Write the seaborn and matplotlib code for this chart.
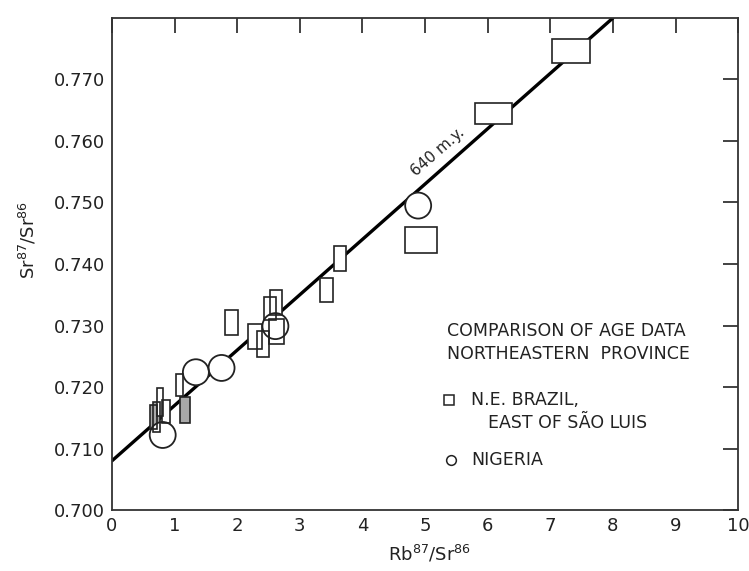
import numpy as np
import pandas as pd
import seaborn as sns
import matplotlib.pyplot as plt
from matplotlib.patches import Rectangle

# N.E. Brazil error boxes: centre and full width/height
brazil_x = [0.66, 0.71, 0.77, 0.86, 1.08, 1.16, 1.91, 2.29, 2.41, 2.52, 2.62, 2.63, 3.43, 3.64, 4.94, 6.10, 7.33]
brazil_y = [0.7151, 0.7151, 0.7176, 0.7160, 0.7203, 0.7163, 0.7305, 0.7282, 0.7270, 0.7328, 0.7338, 0.7290, 0.7358, 0.7409, 0.7439, 0.7645, 0.7746]
brazil_w = [0.11, 0.10, 0.10, 0.12, 0.10, 0.16, 0.20, 0.22, 0.20, 0.19, 0.20, 0.24, 0.21, 0.20, 0.51, 0.59, 0.60]
brazil_h = [0.0040, 0.0048, 0.0046, 0.0038, 0.0035, 0.0042, 0.0040, 0.0042, 0.0041, 0.0037, 0.0041, 0.0040, 0.0040, 0.0041, 0.0042, 0.0034, 0.0039]
shaded = [0, 1, 5]

# Nigeria points
nigeria_x = [0.81, 1.34, 1.75, 2.61, 4.89]
nigeria_y = [0.7122, 0.7224, 0.7231, 0.7299, 0.7495]

# 640 m.y. isochron
iso_x = [0.0, 8.0]
iso_y = [0.708, 0.780]

sns.set_style('white')
plt.rcParams['font.family'] = ['DejaVu Sans']

fig = plt.figure(figsize=(7.49, 5.71), dpi=100)
ax = fig.add_axes([0.1495, 0.1068, 0.836, 0.8617])

sns.lineplot(x=iso_x, y=iso_y, ax=ax, color='black', lw=2.4, zorder=1)

# white fill pass hides the line inside the symbols
for i, (x, y, w, h) in enumerate(zip(brazil_x, brazil_y, brazil_w, brazil_h)):
    fc = '#a8a8a8' if i in shaded else 'white'
    ax.add_patch(Rectangle((x - w / 2, y - h / 2), w, h, facecolor=fc, edgecolor='none', zorder=2))
nig = pd.DataFrame({'x': nigeria_x, 'y': nigeria_y})
sns.scatterplot(data=nig, x='x', y='y', ax=ax, s=350, facecolor='white', edgecolor='none', zorder=2)

# outline pass
for x, y, w, h in zip(brazil_x, brazil_y, brazil_w, brazil_h):
    ax.add_patch(Rectangle((x - w / 2, y - h / 2), w, h, facecolor='none', edgecolor='#222222', lw=1.2, zorder=3))
sns.scatterplot(data=nig, x='x', y='y', ax=ax, s=350, facecolor='none', edgecolor='#222222', linewidth=1.3, zorder=3)

ax.set_xlim(0, 10)
ax.set_ylim(0.700, 0.780)
ax.set_xticks(range(0, 11))
ax.set_yticks(np.arange(0.700, 0.7705, 0.010))
ax.set_yticklabels([f'{v:.3f}' for v in np.arange(0.700, 0.7705, 0.010)])
ax.tick_params(direction='in', length=11, width=1.2, top=True, right=True,
               labelsize=13, pad=5, colors='#222222')
for s in ax.spines.values():
    s.set_color('#333333')
    s.set_linewidth(1.3)
ax.set_xlabel('')
ax.set_ylabel('')

fig.text(0.037, 0.58, r'Sr$^{87}$/Sr$^{86}$', rotation=90, ha='center', va='center', fontsize=13, color='#222222')
fig.text(0.574, 0.030, r'Rb$^{87}$/Sr$^{86}$', ha='center', va='center', fontsize=13, color='#222222')

ax.text(5.2, 0.7582, '640 m.y.', rotation=41, ha='center', va='center', fontsize=11, color='#222222')

tx = dict(transform=ax.transAxes, fontsize=12.5, color='#222222', va='center', ha='left')
ax.text(0.535, 0.364, 'COMPARISON OF AGE DATA', **tx)
ax.text(0.535, 0.317, 'NORTHEASTERN  PROVINCE', **tx)
ax.plot([0.538], [0.224], marker='s', ms=7, mfc='none', mec='#222222', mew=1.1, transform=ax.transAxes)
ax.text(0.574, 0.224, 'N.E. BRAZIL,', **tx)
ax.text(0.600, 0.177, 'EAST OF SÃO LUIS', **tx)
ax.plot([0.542], [0.102], marker='o', ms=7, mfc='none', mec='#222222', mew=1.1, transform=ax.transAxes)
ax.text(0.574, 0.102, 'NIGERIA', **tx)

fig.savefig('out.png', dpi=100)
